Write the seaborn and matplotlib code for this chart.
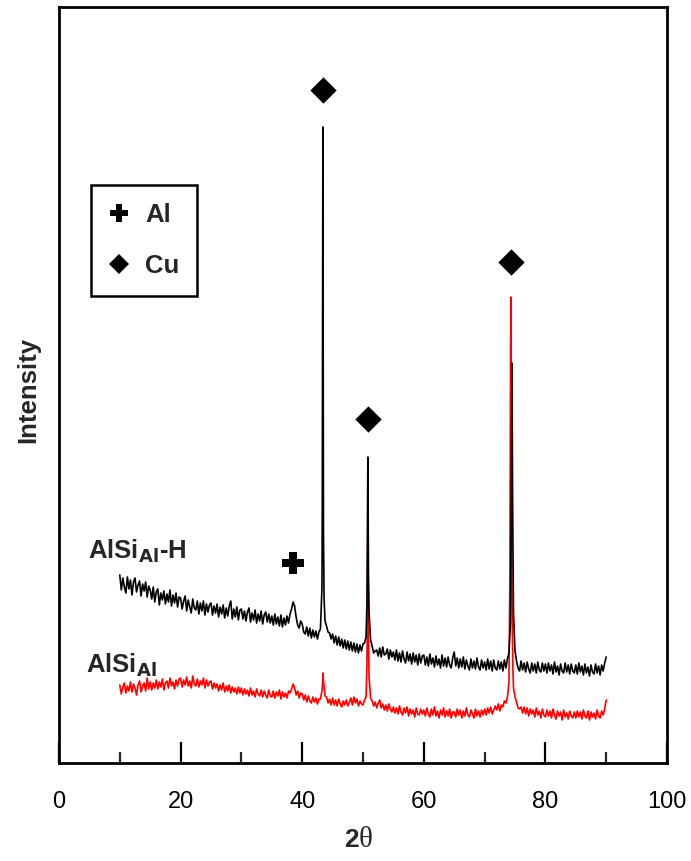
import numpy as np
import pandas as pd
import matplotlib
matplotlib.use("Agg")
import matplotlib.pyplot as plt
from matplotlib.lines import Line2D
from matplotlib.ticker import MultipleLocator, NullLocator
import seaborn as sns

# ---- XRD scan data (2-theta in degrees, intensity in arbitrary units) ----
scan_2theta = np.arange(10.0, 90.001, 0.25)

# AlSi_Al-H pattern on the 0.25 degree scan grid (one row = 5 degrees)
alsi_h_counts = [
    188, 173, 185, 176, 170, 186, 174, 183, 168, 181, 185, 171, 178, 182, 167, 179, 172, 181, 166, 177,
    173, 164, 176, 161, 171, 174, 158, 170, 163, 172, 159, 169, 161, 173, 157, 168, 160, 170, 156, 166,
    165, 154, 162, 167, 152, 163, 156, 150, 164, 155, 153, 162, 149, 160, 152, 162, 148, 159, 151, 158,
    160, 148, 157, 150, 159, 146, 156, 149, 158, 145, 155, 147, 157, 162, 144, 154, 146, 156, 143, 153,
    154, 144, 152, 142, 151, 155, 141, 150, 143, 153, 140, 149, 142, 152, 139, 148, 151, 141, 149, 140,
    147, 138, 149, 139, 146, 137, 148, 136, 145, 138, 147, 140, 149, 154, 161, 157, 146, 138, 135, 142,
    139, 131, 129, 136, 127, 135, 125, 133, 126, 132, 124, 131, 134, 175, 230, 142, 137, 131, 130, 124,
    129, 120, 127, 118, 126, 117, 124, 115, 123, 114, 122, 113, 121, 112, 120, 111, 119, 110, 118, 112,
    119, 120, 126, 260, 150, 123, 117, 110, 112, 113, 107, 115, 106, 116, 108, 109, 114, 104, 113, 106,
    111, 103, 113, 102, 110, 101, 112, 104, 100, 111, 102, 109, 99, 110, 101, 108, 98, 109, 100, 107,
    108, 98, 106, 97, 109, 99, 105, 96, 107, 98, 104, 95, 108, 97, 105, 96, 106, 98, 95, 105,
    111, 97, 105, 95, 104, 96, 106, 94, 103, 97, 93, 104, 95, 102, 94, 105, 96, 93, 103, 95,
    101, 93, 104, 94, 102, 92, 103, 95, 93, 102, 94, 101, 92, 103, 95, 104, 110, 140, 400, 150,
    112, 102, 95, 92, 102, 93, 100, 91, 101, 94, 90, 100, 92, 99, 90, 101, 93, 91, 100, 92,
    99, 90, 100, 92, 98, 89, 101, 91, 97, 88, 99, 92, 90, 100, 91, 98, 89, 99, 92, 90,
    98, 89, 100, 91, 97, 88, 99, 90, 96, 87, 98, 91, 89, 99, 90, 97, 88, 98, 92, 100,
    106,
]
# extra samples across the sharp reflections of AlSi_Al-H
alsi_h_peak_2theta = [43.3, 43.35, 43.4, 43.45, 43.6,
                      50.65, 50.8, 50.85, 50.9,
                      74.4, 74.6]
alsi_h_peak_counts = [250, 420, 636, 420, 165,
                      160, 306, 250, 190,
                      280, 270]

# AlSi_Al pattern on the 0.25 degree scan grid (one row = 5 degrees)
alsi_counts = [
    78, 69, 76, 80, 70, 77, 72, 81, 71, 79, 75, 68, 78, 82, 71, 77, 80, 72, 85, 74,
    81, 73, 80, 75, 83, 74, 81, 76, 84, 73, 80, 82, 75, 85, 77, 81, 74, 83, 77, 84,
    85, 76, 83, 78, 86, 77, 82, 75, 87, 79, 77, 84, 76, 82, 78, 85, 75, 83, 77, 81,
    82, 74, 80, 75, 79, 72, 78, 73, 80, 71, 77, 72, 78, 70, 76, 71, 75, 69, 76, 70,
    75, 68, 74, 69, 73, 67, 75, 68, 72, 66, 74, 69, 67, 73, 66, 72, 68, 65, 73, 67,
    66, 72, 65, 71, 67, 73, 64, 71, 66, 70, 65, 72, 70, 74, 79, 75, 68, 72, 65, 70,
    69, 63, 68, 61, 67, 62, 60, 66, 61, 65, 59, 64, 64, 72, 82, 67, 66, 60, 64, 58,
    65, 58, 63, 57, 64, 59, 56, 62, 58, 63, 57, 61, 65, 58, 66, 60, 64, 57, 62, 59,
    58, 63, 66, 190, 85, 65, 62, 57, 61, 55, 60, 63, 55, 59, 53, 58, 52, 59, 54, 51,
    56, 50, 55, 49, 57, 51, 48, 55, 50, 56, 47, 54, 49, 53, 46, 55, 49, 48, 54, 49,
    53, 47, 55, 49, 46, 54, 48, 56, 47, 52, 45, 53, 48, 55, 46, 52, 47, 54, 45, 51,
    51, 46, 54, 48, 53, 45, 52, 47, 55, 48, 46, 53, 49, 45, 54, 47, 52, 46, 53, 48,
    54, 48, 55, 50, 56, 49, 53, 57, 53, 59, 52, 58, 56, 62, 60, 66, 80, 380, 160, 75,
    66, 61, 55, 54, 56, 50, 56, 49, 55, 47, 54, 49, 53, 46, 55, 48, 52, 45, 54, 48,
    46, 53, 47, 52, 45, 54, 48, 44, 52, 47, 51, 43, 53, 46, 50, 44, 52, 47, 45, 51,
    45, 52, 46, 51, 44, 53, 47, 45, 52, 43, 51, 46, 50, 44, 53, 47, 45, 52, 48, 54,
    63,
]
# extra samples across the sharp reflections of AlSi_Al
alsi_peak_2theta = [43.35, 43.4, 43.45,
                    50.65, 50.7, 50.8, 50.85, 50.9,
                    74.15, 74.3, 74.35, 74.4, 74.65]
alsi_peak_counts = [80, 90, 86,
                    100, 130, 235, 180, 120,
                    180, 466, 380, 260, 95]

# phase markers above the reflections
al_marker_2theta = [38.5]
al_marker_level = [200]
cu_marker_2theta = [43.4, 50.8, 74.3]
cu_marker_level = [673, 344, 501]


def build_pattern(grid_x, grid_y, extra_x, extra_y):
    df = pd.DataFrame({
        "two_theta": np.concatenate([grid_x, extra_x]),
        "intensity": np.concatenate([grid_y, extra_y]),
    })
    return df.sort_values("two_theta").reset_index(drop=True)


hydro = build_pattern(scan_2theta, alsi_h_counts, alsi_h_peak_2theta, alsi_h_peak_counts)
plain = build_pattern(scan_2theta, alsi_counts, alsi_peak_2theta, alsi_peak_counts)

sns.set_theme(style="white")
plt.rcParams["font.family"] = ["Liberation Sans", "DejaVu Sans"]

fig = plt.figure(figsize=(6.91, 8.61), dpi=100)
ax = fig.add_axes([59 / 691, 1 - 763 / 861, 608 / 691, 756 / 861])

sns.lineplot(data=plain, x="two_theta", y="intensity", color="#ff0000",
             linewidth=1.2, estimator=None, sort=False, ax=ax)
sns.lineplot(data=hydro, x="two_theta", y="intensity", color="black",
             linewidth=1.2, estimator=None, sort=False, ax=ax)

sns.scatterplot(x=cu_marker_2theta, y=cu_marker_level, marker="D", s=180,
                color="black", edgecolor="black", linewidth=0, ax=ax, zorder=5)
sns.scatterplot(x=al_marker_2theta, y=al_marker_level, marker="P", s=240,
                color="black", edgecolor="black", linewidth=0, ax=ax, zorder=5)

ax.set_xlim(0, 100)
ax.set_ylim(0, 756)
ax.xaxis.set_major_locator(MultipleLocator(20))
ax.xaxis.set_minor_locator(MultipleLocator(10))
ax.yaxis.set_major_locator(NullLocator())
ax.tick_params(axis="x", which="major", direction="in", length=15, width=1.6,
               labelsize=17, pad=20, colors="black", bottom=True)
ax.tick_params(axis="x", which="minor", direction="in", length=8, width=1.6,
               bottom=True)
for side in ax.spines.values():
    side.set_color("black")
    side.set_linewidth(2.0)

ax.set_xlabel("")
ax.set_ylabel("")
# x-axis title: bold "2" followed by an upright serif theta
fig.text(359 / 691, 1 - 840 / 861, "2", ha="right", va="center",
         fontsize=19, fontweight="bold")
fig.text(359 / 691, 1 - 840 / 861, "θ", ha="left", va="center",
         fontsize=21, family=["Liberation Serif", "DejaVu Serif"])
fig.text(28 / 691, 1 - 390 / 861, "Intensity", rotation=90, ha="center",
         va="center", fontsize=18.5, fontweight="bold")

ax.text(4.7, 763 - 551, r"AlSi$_{\mathbf{Al}}$-H", fontsize=18.5, fontweight="bold",
        ha="left", va="center")
ax.text(4.5, 763 - 665, r"AlSi$_{\mathbf{Al}}$", fontsize=18.5, fontweight="bold",
        ha="left", va="center")

handles = [
    Line2D([], [], linestyle="", marker="P", markersize=13, color="black",
           markeredgewidth=0, label="Al"),
    Line2D([], [], linestyle="", marker="D", markersize=10, color="black",
           markeredgewidth=0, label="Cu"),
]
leg = ax.legend(handles=handles, loc="upper left", bbox_to_anchor=(0.053, 0.765),
                borderaxespad=0, frameon=True, fancybox=False, framealpha=1,
                edgecolor="black", handlelength=0.75, handletextpad=0.65,
                borderpad=0.7, labelspacing=1.05,
                prop={"size": 18.5, "weight": "bold"})
leg.get_frame().set_linewidth(1.8)

fig.savefig("out.png", dpi=100)
